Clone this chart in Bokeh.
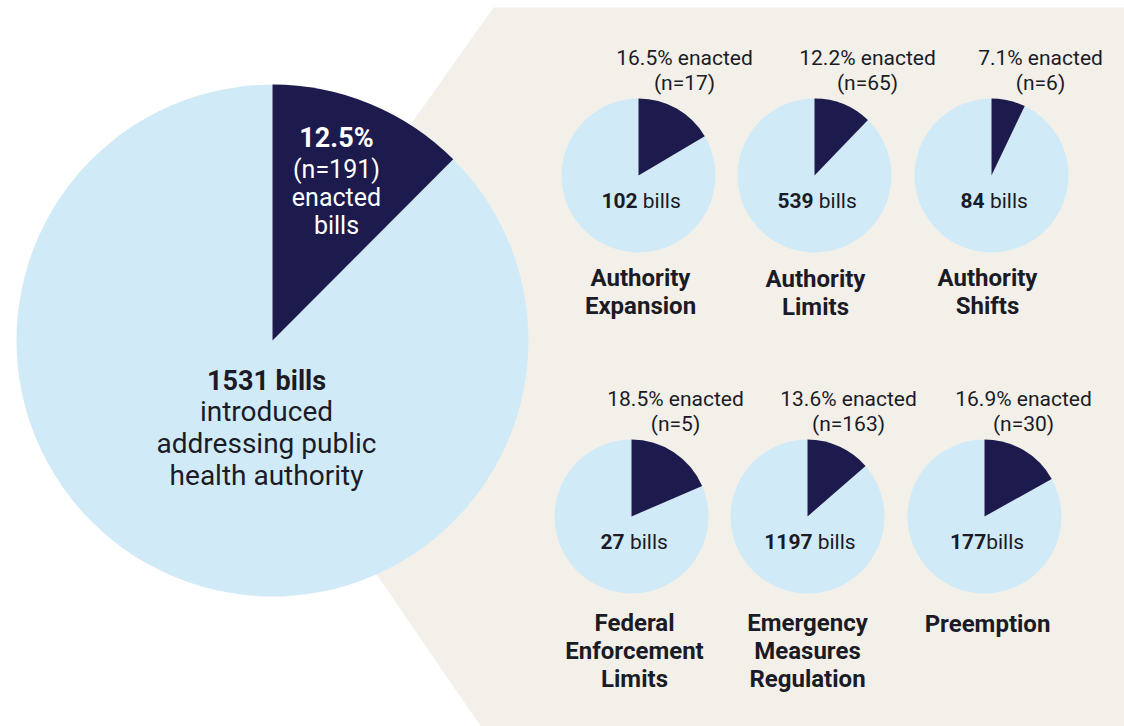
import math
from bokeh.plotting import figure
from bokeh.models import Range1d
from bokeh.core.properties import value
from bokeh.embed import file_html
from bokeh.resources import INLINE

# ---------------- data ----------------
overall_total = 1531
overall_enacted = 191
overall_pct = 12.5
overall_desc = ["introduced", "addressing public", "health authority"]

category_lines = [
    ["Authority", "Expansion"],
    ["Authority", "Limits"],
    ["Authority", "Shifts"],
    ["Federal", "Enforcement", "Limits"],
    ["Emergency", "Measures", "Regulation"],
    ["Preemption"],
]
bills_total = [102, 539, 84, 27, 1197, 177]
bills_enacted = [17, 65, 6, 5, 163, 30]
pct_enacted = [16.5, 12.2, 7.1, 18.5, 13.6, 16.9]
bills_gap = [True, True, True, True, True, False]

# ---------------- layout (image pixel coordinates) ----------------
W, H = 1124, 726
def Y(y):
    return H - y

big_cx, big_cy, big_r = 272, 340, 256
pie_cx = [638, 814, 991, 631, 807, 984]
pie_cy = [175, 175, 175, 516, 516, 516]
pie_r = 77
enact_x = [684, 867, 1040, 675, 848, 1023]
title_x = [640, 815, 987, 634, 807, 987]
title_y = [277, 278, 277, 622, 622, 623]

LIGHT = "#d0ebf7"
DARK = "#1d1b4d"
BEIGE = "#f3f0ea"
TXT = "#1b1b26"
FONT = value("Roboto")

p = figure(width=W, height=H, x_range=Range1d(0, W), y_range=Range1d(0, H),
           output_backend="svg", toolbar_location=None, min_border=0)
p.axis.visible = False
p.grid.visible = False
p.outline_line_color = None
p.background_fill_color = "white"
p.border_fill_color = "white"

# beige backdrop (chevron)
bx = [493, 1130, 1130, 490, 236]
by = [7, 7, 740, 740, 370]
p.patch(bx, [Y(v) for v in by], fill_color=BEIGE, line_color=None)

def pie(cx, cy, r, frac):
    a_end = math.pi / 2
    a_start = math.pi / 2 - frac * 2 * math.pi
    p.wedge(x=[cx], y=[Y(cy)], radius=r, start_angle=a_end, end_angle=a_start + 2 * math.pi,
            fill_color=LIGHT, line_color=None)
    p.wedge(x=[cx], y=[Y(cy)], radius=r, start_angle=a_start, end_angle=a_end,
            fill_color=DARK, line_color=None)

def txt(x, y, s, size, bold=False, color=TXT, align="center"):
    p.text(x=[x], y=[Y(y)], text=[s], text_font=FONT, text_font_size=f"{size}px",
           text_font_style="bold" if bold else "normal", text_color=color,
           text_align=align, text_baseline="middle")

# big pie
pie(big_cx, big_cy, big_r, overall_enacted / overall_total)
txt(336, 137, f"{overall_pct}%", 27, bold=True, color="white")
txt(336, 169, f"(n={overall_enacted})", 25, color="white")
txt(336, 197, "enacted", 25, color="white")
txt(336, 225, "bills", 25, color="white")
txt(266, 380, f"{overall_total} bills", 27, bold=True)
for i, line in enumerate(overall_desc):
    txt(266, 411 + i * 32, line, 28)

# small pies
FS = 21
for i in range(len(bills_total)):
    cx, cy = pie_cx[i], pie_cy[i]
    pie(cx, cy, pie_r, pct_enacted[i] / 100.0)
    txt(enact_x[i], cy - 118, f"{pct_enacted[i]}% enacted", FS)
    txt(enact_x[i], cy - 93, f"(n={bills_enacted[i]})", FS)
    num = str(bills_total[i])
    wb = len(num) * 0.562 * FS
    gap = 0.25 * FS if bills_gap[i] else 0
    wn = gap + 1.81 * FS
    split = cx + 3 - (wb + wn) / 2 + wb
    txt(split, cy + 25, num, FS, bold=True, align="right")
    txt(split + gap, cy + 25, "bills", FS, align="left")
    for j, line in enumerate(category_lines[i]):
        txt(title_x[i], title_y[i] + j * 28, line, 24, bold=True)

open("out.html", "w").write(file_html(p, INLINE))
